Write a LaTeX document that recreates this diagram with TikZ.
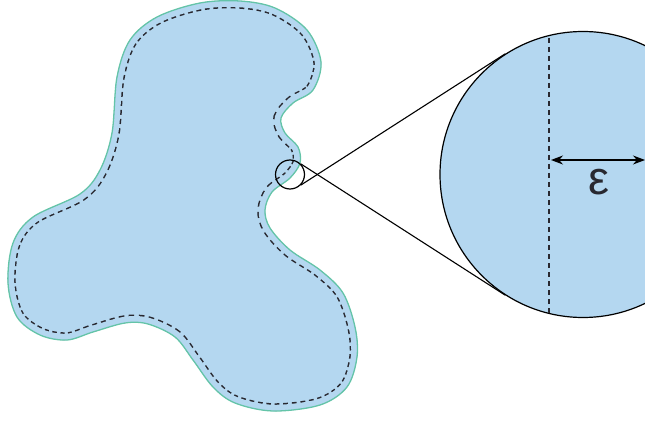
\documentclass[tikz,border=0pt]{standalone}
\usepackage{fontspec}
\newfontfamily\epsfont{Liberation Sans}
\usetikzlibrary{calc,arrows.meta}
\definecolor{blobfill}{RGB}{180,215,240}
\definecolor{blobedge}{RGB}{100,196,168}
\definecolor{dashc}{RGB}{40,40,48}
\begin{document}
\begin{tikzpicture}[x=1pt,y=-1pt,
  ring/.style={circle,draw=black,inner sep=0pt,line width=1.2pt},
  tline/.style={draw=black,line width=1.1pt},
  zoomdash/.style={draw=dashc,line width=1.4pt,dash pattern=on 5pt off 4pt},
  dimarrow/.style={line width=1.2pt,>={Stealth[length=12pt,width=9pt]},<->}]
\useasboundingbox (0,0) rectangle (645,422);
\def\blob{plot[smooth cycle,tension=0.55] coordinates {
 (200,3) (240,1) (275,8) (307,30) (321,62) (313,90) (293,103) (281,118)
 (285,133) (298,147) (300,163) (290,178) (272,192) (265,210) (270,228)
 (290,250) (320,270) (343,293) (355,327) (357,357) (347,387) (320,405)
 (273,411) (235,403) (213,387) (193,360) (175,337) (148,324) (125,323)
 (93,332) (67,340) (40,335) (17,317) (8,283) (13,243) (33,217) (80,194)
 (100,170) (112,133) (117,77) (130,40) (157,17)}}
\fill[blobfill] \blob;
\begin{scope}
  \clip \blob;
  \draw[dashc,line width=15.5pt,dash pattern=on 5pt off 4pt] \blob;
  \draw[blobfill,line width=12.5pt] \blob;
\end{scope}
\draw[blobedge,line width=1.3pt] \blob;
% zoom circles
\node[ring,minimum size=29pt] (small) at (290,174.5) {};
\node[ring,fill=blobfill,minimum size=286pt] (big) at (583,174.5) {};
\draw[tline] (small.45) -- (tangent cs:node=big,point={(small.45)},solution=1);
\draw[tline] (small.-45) -- (tangent cs:node=big,point={(small.-45)},solution=2);
\begin{scope}
  \clip (583,174.5) circle (142.5);
  \coordinate (dtop) at (549,20);
  \coordinate (dbot) at (549,330);
  \draw[zoomdash] (dtop) -- (dbot);
\end{scope}
\coordinate (al) at (551,160);
\coordinate (ar) at (645,160);
\draw[dimarrow] (al) -- (ar);
\node[text=dashc,font=\epsfont\fontsize{47}{47}\selectfont,inner sep=0pt] (eps) at (599,182) {ε};
\end{tikzpicture}
\end{document}
